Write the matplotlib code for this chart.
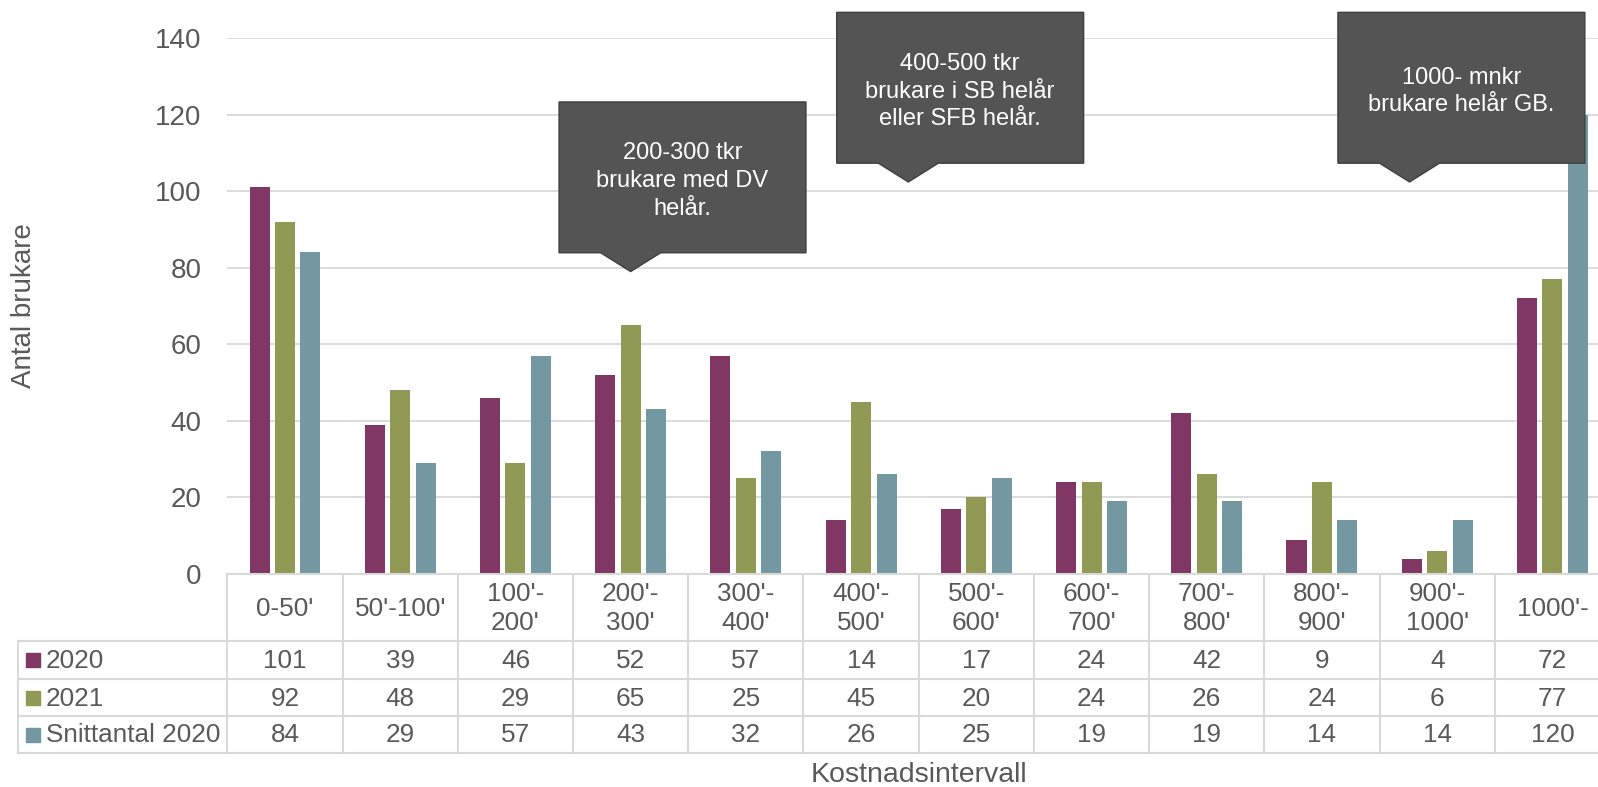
import matplotlib.pyplot as plt
from matplotlib.patches import Polygon, Rectangle
import numpy as np

plt.rcParams['font.family'] = ['Liberation Sans', 'DejaVu Sans']

# data
categories = ["0-50'", "50'-100'", "100'-\n200'", "200'-\n300'", "300'-\n400'", "400'-\n500'",
              "500'-\n600'", "600'-\n700'", "700'-\n800'", "800'-\n900'", "900'-\n1000'", "1000'-"]
series = ["2020", "2021", "Snittantal 2020"]
v2020 = [101, 39, 46, 52, 57, 14, 17, 24, 42, 9, 4, 72]
v2021 = [92, 48, 29, 65, 25, 45, 20, 24, 26, 24, 6, 77]
snitt = [84, 29, 57, 43, 32, 26, 25, 19, 19, 14, 14, 120]
values = [v2020, v2021, snitt]
colors = ["#803764", "#909A55", "#7398A2"]

callout_text = ["200-300 tkr\nbrukare med DV\nhelår.",
                "400-500 tkr\nbrukare i SB helår\neller SFB helår.",
                "1000- mnkr\nbrukare helår GB."]
callout_tip_x = [3.0, 5.41, 9.76]
callout_tip_y = [79, 102.4, 102.4]

txt = "#595959"
grid = "#d9d9d9"

W, H = 1598, 787
fig = plt.figure(figsize=(W / 100, H / 100), dpi=100)

x0, x1 = 227.4, 1610
y0, y1 = 38, 574
ax = fig.add_axes([x0 / W, 1 - y1 / H, (x1 - x0) / W, (y1 - y0) / H])
n = len(categories)
x = np.arange(n)
bw = 0.174
off = 0.221
for i, (vals, c) in enumerate(zip(values, colors)):
    ax.bar(x + (i - 1) * off, vals, width=bw, color=c, zorder=3)

ax.set_xlim(-0.5, n - 0.5)
ax.set_ylim(0, 140)
ax.set_yticks(np.arange(0, 141, 20))
ax.yaxis.grid(True, color=grid, linewidth=1.3, zorder=0)
ax.set_xticks([])
ax.tick_params(axis='y', length=0, pad=18.5, labelsize=20, labelcolor=txt)
for s in ax.spines.values():
    s.set_visible(False)

# callouts
bw_box = 2.143
for t, tx, ty in zip(callout_text, callout_tip_x, callout_tip_y):
    bottom = ty + 4.9
    top = bottom + 39.4
    cx = tx + 0.45
    left, right = cx - bw_box / 2, cx + bw_box / 2
    pts = [(left, bottom), (tx - 0.26, bottom), (tx, ty), (tx + 0.26, bottom),
           (right, bottom), (right, top), (left, top)]
    ax.add_patch(Polygon(pts, closed=True, facecolor="#545454", edgecolor="#3f3f3f",
                         linewidth=1, zorder=5, clip_on=False))
    ax.text(cx, (bottom + top) / 2 - 1, t, ha='center', va='center', color='white',
            fontsize=17, linespacing=1.34, zorder=6, clip_on=False)

# data table
ty0, ty1 = 574, 753
tax = fig.add_axes([x0 / W, 1 - ty1 / H, (x1 - x0) / W, (ty1 - ty0) / H])
tax.set_xlim(-0.5, n - 0.5)
tax.set_ylim(ty1 - ty0, 0)
tax.axis('off')
rows = [0, 67, 105, 142, 179]
xl = -0.5 - (x0 - 18) / 115.25
lw = 1.5
tax.plot([-0.5, n - 0.5], [0, 0], color=grid, lw=lw, clip_on=False)
for r in rows[1:]:
    tax.plot([xl, n - 0.5], [r, r], color=grid, lw=lw, clip_on=False)
for k in range(n + 1):
    tax.plot([k - 0.5, k - 0.5], [0, rows[-1]], color=grid, lw=lw, clip_on=False)
tax.plot([xl, xl], [rows[1], rows[-1]], color=grid, lw=lw, clip_on=False)

fs = 18.8
for k, lab in enumerate(categories):
    tax.text(k, rows[1] / 2 + 1, lab, ha='center', va='center', color=txt,
             fontsize=fs, linespacing=1.25)
sq = 14 / 115.25
for j, (name, vals, c) in enumerate(zip(series, values, colors)):
    yc = (rows[j + 1] + rows[j + 2]) / 2
    tax.add_patch(Rectangle((-0.5 - (x0 - 26) / 115.25, yc - 7), sq, 14,
                            color=c, clip_on=False))
    tax.text(-0.5 - (x0 - 46) / 115.25, yc + 1, name, ha='left', va='center',
             color=txt, fontsize=fs, clip_on=False)
    for k, v in enumerate(vals):
        tax.text(k, yc + 1, str(v), ha='center', va='center', color=txt, fontsize=fs)

fig.text(24 / W, 1 - 306 / H, "Antal brukare", rotation=90, ha='center', va='center',
         color=txt, fontsize=20)
fig.text((x0 + x1) / 2 / W, 1 - 775 / H, "Kostnadsintervall", ha='center', va='center',
         color=txt, fontsize=20.5)

fig.savefig("out.png", dpi=100)
